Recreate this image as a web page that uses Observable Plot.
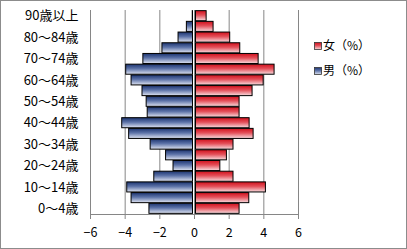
<!DOCTYPE html>
<html><head><meta charset="utf-8">
<script src="https://cdn.jsdelivr.net/npm/d3@7"></script>
<script src="https://cdn.jsdelivr.net/npm/@observablehq/plot@0.6"></script>
<style>body{margin:0;background:#fff} svg{display:block}</style>
</head><body><div id="chart"></div>
<script>
const ages = ["0～4歳","5～9歳","10～14歳","15～19歳","20～24歳","25～29歳","30～34歳","35～39歳","40～44歳","45～49歳","50～54歳","55～59歳","60～64歳","65～69歳","70～74歳","75～79歳","80～84歳","85～89歳","90歳以上"];
const female = [2.6, 3.16, 4.12, 2.25, 1.49, 1.87, 2.25, 3.41, 3.18, 2.6, 2.6, 3.35, 3.99, 4.62, 3.7, 2.64, 2.06, 1.1, 0.7];
const male = [2.6, 3.63, 3.88, 2.32, 1.21, 1.64, 2.53, 3.77, 4.17, 2.7, 2.76, 3.0, 3.63, 3.94, 2.95, 1.85, 0.92, 0.44, 0.1];
const tickLabels = ["0～4歳","10～14歳","20～24歳","30～34歳","40～44歳","50～54歳","60～64歳","70～74歳","80～84歳","90歳以上"];
const xTicks = [-6, -4, -2, 0, 2, 4, 6];
const seriesNames = ["女（%）", "男（%）"];

const data = ages.map((a, i) => ({age: a, female: female[i], male: male[i]}));

const chart = Plot.plot({
  width: 407, height: 249,
  marginLeft: 90, marginRight: 109, marginTop: 10, marginBottom: 35,
  style: {fontFamily: "'Noto Sans CJK JP', sans-serif", fontSize: "12px", color: "#000", background: "#fff"},
  x: {domain: [-6, 6], ticks: xTicks, label: null},
  y: {domain: ages.slice().reverse(), padding: 0.06, round: false, label: null},
  marks: [
    Plot.gridX(xTicks, {stroke: "#868686", strokeOpacity: 1}),
    Plot.barX(data, {y: "age", x1: 0, x2: "female", fill: "url(#gradF)", stroke: "#000", strokeWidth: 1, insetLeft: 1.5}),
    Plot.barX(data, {y: "age", x1: 0, x2: d => -d.male, fill: "url(#gradM)", stroke: "#000", strokeWidth: 1, insetRight: 1.5}),
    Plot.frame({anchor: "bottom", stroke: "#868686"}),
    Plot.axisX({ticks: xTicks, tickSize: 5, tickPadding: 9, stroke: "#868686", fill: "#000", fontSize: 12.5, label: null}),
    Plot.axisY({ticks: tickLabels, tickSize: 0, tickPadding: 12, fill: "#000", fontSize: 13, label: null})
  ]
});

const svg = d3.select(chart);
svg.style("outline", "1px solid #8c8c8c").style("outline-offset", "-1px");
const defs = svg.insert("defs", ":first-child");
function grad(id, stops) {
  const g = defs.append("linearGradient").attr("id", id).attr("x1", 0).attr("y1", 0).attr("x2", 0).attr("y2", 1);
  stops.forEach(([o, c]) => g.append("stop").attr("offset", o).attr("stop-color", c));
}
grad("gradF", [[0, "#d0101c"], [0.45, "#e4505a"], [1, "#f8dde0"]]);
grad("gradM", [[0, "#1c3470"], [0.45, "#5d73a8"], [1, "#dfe4f2"]]);

const leg = svg.append("g").attr("font-family", "'Noto Sans CJK JP', sans-serif").attr("font-size", 12).attr("text-anchor", "start");
[["gradF", seriesNames[0], 46], ["gradM", seriesNames[1], 71]].forEach(([g, name, cy]) => {
  leg.append("rect").attr("x", 314.5).attr("y", cy - 3.5).attr("width", 7).attr("height", 7)
    .attr("fill", `url(#${g})`).attr("stroke", "#333").attr("stroke-width", 0.8);
  leg.append("text").attr("x", 323).attr("y", cy).attr("dy", "0.35em").attr("fill", "#000").attr("text-anchor", "start").text(name);
});

document.getElementById("chart").appendChild(chart);
</script>
</body></html>
